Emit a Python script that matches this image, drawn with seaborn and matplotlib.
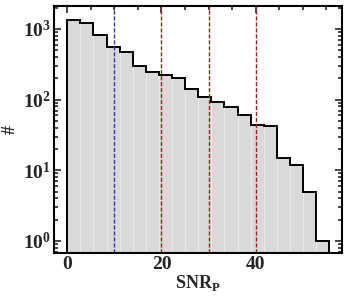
"""SNR_P histogram with threshold markers."""

import matplotlib

matplotlib.use("Agg")

import matplotlib.pyplot as plt
import numpy as np
import pandas as pd
import seaborn as sns
from matplotlib.ticker import MultipleLocator, LogLocator, NullFormatter

# bin edges (20 bins) and counts
bin_edges = [round(0.0 + 2.78 * i, 2) for i in range(21)]
counts = [1350, 1215, 823, 563, 465, 295, 245, 225, 202, 141,
          108, 94, 78, 60, 44, 42, 15, 12, 5, 1]
blue_lines = [10]
red_lines = [20, 30, 40]

centers = [0.5 * (a + b) for a, b in zip(bin_edges[:-1], bin_edges[1:])]
df = pd.DataFrame({"snr": centers, "n": counts})

sns.set_style("ticks")
plt.rcParams["font.family"] = ["Liberation Serif", "DejaVu Serif"]
plt.rcParams["font.weight"] = "bold"
plt.rcParams["mathtext.fontset"] = "custom"
plt.rcParams["mathtext.rm"] = "Liberation Serif:bold"
plt.rcParams["mathtext.bf"] = "Liberation Serif:bold"

fig = plt.figure(figsize=(3.5, 3.0), dpi=100)
ax = fig.add_axes([0.153, 0.157, 0.824, 0.823])

# filled bars with faint white separators
sns.histplot(data=df, x="snr", weights="n", bins=bin_edges, color="#d9d9d9",
             edgecolor="#ececec", linewidth=0.6, alpha=1.0, ax=ax)
# black outline
ax.hist(df["snr"], bins=bin_edges, weights=df["n"], histtype="step",
        color="black", linewidth=1.4)

for x in blue_lines:
    ax.axvline(x, color="#3535b5", linestyle=(0, (3, 1.3)), linewidth=1.0)
for x in red_lines:
    ax.axvline(x, color="#b01818", linestyle=(0, (3, 1.3)), linewidth=1.0)

ax.set_yscale("log")
ax.set_xlim(-2.9, 58.3)
ax.set_ylim(0.676, 2115)

ax.xaxis.set_major_locator(MultipleLocator(20))
ax.xaxis.set_minor_locator(MultipleLocator(5))
ax.yaxis.set_major_locator(LogLocator(base=10))
ax.yaxis.set_minor_locator(LogLocator(base=10, subs=np.arange(2, 10)))
ax.yaxis.set_minor_formatter(NullFormatter())

ax.tick_params(which="both", direction="in", top=True, right=True,
               labelsize=14, width=1.2)
ax.tick_params(which="major", length=5, pad=2)
ax.tick_params(which="minor", length=3)
for lbl in ax.get_xticklabels() + ax.get_yticklabels():
    lbl.set_fontweight("bold")

for spine in ax.spines.values():
    spine.set_linewidth(1.5)
    spine.set_color("black")

ax.set_xlabel(r"SNR$_\mathrm{P}$", fontsize=13, fontweight="bold", labelpad=0)
ax.set_ylabel("#", fontsize=13, fontweight="bold", labelpad=3)

fig.savefig("out.png", dpi=100)
plt.close(fig)
